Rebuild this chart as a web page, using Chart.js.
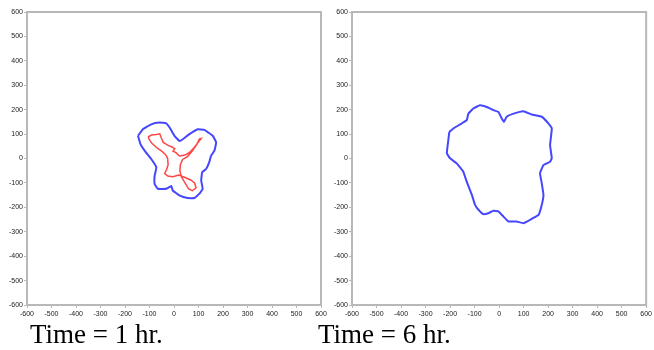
<!DOCTYPE html>
<html>
<head>
<meta charset="utf-8">
<script src="https://cdn.jsdelivr.net/npm/chart.js@4/dist/chart.umd.min.js"></script>
<style>
  body { margin: 0; background: #fff; }
  #wrap { position: relative; width: 654px; height: 350px; overflow: hidden; }
  canvas { position: absolute; top: 0; }
  #c1 { left: 0; }
  #c2 { left: 325px; }
  .caption {
    position: absolute; top: 321px;
    font-family: "Liberation Serif", "Times New Roman", serif;
    font-size: 27px; line-height: 27px; color: #000;
  }
</style>
</head>
<body>
<div id="wrap">
  <canvas id="c1" width="330" height="325"></canvas>
  <canvas id="c2" width="329" height="325"></canvas>
  <div class="caption" style="left:30px">Time = 1 hr.</div>
  <div class="caption" style="left:318px">Time = 6 hr.</div>
</div>
<script>
// axis range shared by both panels
const axisMin = -600;
const axisMax = 600;
const axisStep = 100;

// t = 1 hr: outer (blue) front
const hr1OuterX = [-147, -127, -93, -59, -32, -18, 2, 22, 36, 63, 97, 124, 158, 172, 165, 151, 144, 131, 115, 111, 117, 104, 83, 56, 22, -5, -11, -32, -66, -79, -79, -72, -93, -120, -137];
const hr1OuterY = [93, 120, 140, 147, 144, 127, 93, 72, 79, 100, 120, 117, 93, 66, 32, 11, -15, -43, -56, -90, -124, -144, -162, -162, -151, -131, -113, -124, -124, -104, -70, -36, -2, 32, 59];

// t = 1 hr: inner (red) core
const hr1InnerX = [-106, -92, -72, -58, -52, -44, -24, -8, 3, -4, 8, 22, 45, 65, 85, 102, 111, 104, 92, 75, 55, 35, 26, 24, 30, 45, 60, 75, 90, 84, 68, 45, 20, -5, -25, -38, -30, -24, -26, -32, -50, -68, -90, -100];
const hr1InnerY = [88, 96, 98, 101, 85, 66, 54, 47, 40, 30, 24, 10, 14, 26, 48, 70, 82, 80, 56, 32, 8, -4, -25, -50, -75, -100, -125, -132, -120, -100, -88, -78, -68, -75, -72, -62, -45, -25, 0, 13, 30, 42, 62, 76];

// t = 6 hr: outer (blue) front
const hr6OuterX = [-203, -186, -152, -132, -125, -105, -78, -50, -23, -3, 11, 20, 31, 59, 99, 133, 174, 201, 215, 208, 215, 208, 181, 167, 174, 181, 174, 161, 133, 99, 72, 38, 18, -3, -23, -44, -64, -84, -98, -111, -132, -146, -173, -200, -213, -207];
const hr6OuterY = [109, 123, 144, 157, 184, 205, 218, 211, 198, 191, 164, 150, 171, 184, 194, 180, 171, 144, 123, 55, 1, -13, -27, -60, -101, -149, -190, -231, -247, -265, -258, -258, -238, -217, -214, -224, -228, -210, -190, -149, -95, -54, -20, 1, 21, 76];

const blue = 'rgb(70, 70, 255)';
const red = 'rgb(255, 70, 70)';
const frameColor = '#b8b8b8';

// turn x/y lists into a closed loop of points
function loop(xs, ys) {
  const pts = xs.map((x, i) => ({ x: x, y: ys[i] }));
  pts.push(pts[0]);
  return pts;
}

function outline(xs, ys, color, width, tension) {
  return {
    data: loop(xs, ys),
    showLine: true,
    borderColor: color,
    borderWidth: width,
    pointRadius: 0,
    tension: tension,
    fill: false
  };
}

// grey box around the plotting area (top and right sides)
const frame = {
  id: 'frame',
  afterDraw(chart) {
    const a = chart.chartArea;
    const ctx = chart.ctx;
    ctx.save();
    ctx.strokeStyle = frameColor;
    ctx.lineWidth = 2;
    ctx.strokeRect(a.left, a.top, a.right - a.left, a.bottom - a.top);
    ctx.restore();
  }
};

function axis(isY) {
  return {
    type: 'linear',
    min: axisMin,
    max: axisMax,
    ticks: {
      stepSize: axisStep,
      autoSkip: false,
      maxRotation: 0,
      padding: isY ? 1 : 2,
      color: '#1a1a1a',
      font: { family: 'Arial, "Liberation Sans", sans-serif', size: 7 }
    },
    grid: {
      drawOnChartArea: false,
      drawTicks: true,
      tickLength: 3,
      color: frameColor
    },
    border: { display: true, color: frameColor, width: 2 },
    afterFit(scale) {
      if (isY) scale.width = 27;
      else scale.height = 20;
    }
  };
}

function makeChart(id, datasets, padRight) {
  return new Chart(document.getElementById(id), {
    type: 'scatter',
    data: { datasets: datasets },
    options: {
      responsive: false,
      animation: false,
      layout: { padding: { top: 12, right: padRight, left: 0, bottom: 0 } },
      plugins: { legend: { display: false }, tooltip: { enabled: false } },
      scales: { x: axis(false), y: axis(true) }
    },
    plugins: [frame]
  });
}

makeChart('c1', [
  outline(hr1OuterX, hr1OuterY, blue, 2, 0.1),
  outline(hr1InnerX, hr1InnerY, red, 1.5, 0)
], 9);

makeChart('c2', [
  outline(hr6OuterX, hr6OuterY, blue, 2, 0.1)
], 7);
</script>
</body>
</html>
